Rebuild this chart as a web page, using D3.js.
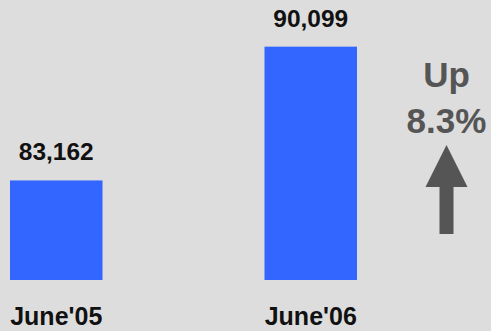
<!DOCTYPE html>
<html>
<head>
<meta charset="utf-8">
<script src="https://cdn.jsdelivr.net/npm/d3@7"></script>
<style>
  html, body { margin: 0; padding: 0; background: #dddddd; }
  svg { display: block; }
  text { font-family: "Liberation Sans", Arial, sans-serif; font-weight: bold; }
</style>
</head>
<body>
<svg id="chart" width="491" height="331"></svg>
<script>
// Monthly totals compared year over year
const periods = ["June'05", "June'06"];
const totals = [83162, 90099];
const changeLines = ["Up", "8.3%"];

const svg = d3.select("#chart");
const W = 491, H = 331;

svg.append("rect").attr("width", W).attr("height", H).attr("fill", "#dddddd");

const x = d3.scaleBand()
  .domain(periods)
  .range([10, 357])
  .paddingInner(0.6365)
  .paddingOuter(0);

// Truncated value axis so the difference reads clearly
const y = d3.scaleLinear()
  .domain([78000, 92000])
  .range([280, 10]);

const fmt = d3.format(",");

const g = svg.append("g");

g.selectAll("rect.bar")
  .data(periods)
  .join("rect")
  .attr("class", "bar")
  .attr("x", d => x(d))
  .attr("width", x.bandwidth())
  .attr("y", (d, i) => y(totals[i]))
  .attr("height", (d, i) => y.range()[0] - y(totals[i]))
  .attr("fill", "#3366ff");

g.selectAll("text.value")
  .data(periods)
  .join("text")
  .attr("class", "value")
  .attr("x", d => x(d) + x.bandwidth() / 2)
  .attr("y", (d, i) => y(totals[i]) - 20)
  .attr("text-anchor", "middle")
  .attr("font-size", 24.5)
  .attr("fill", "#111")
  .text((d, i) => fmt(totals[i]));

g.selectAll("text.period")
  .data(periods)
  .join("text")
  .attr("class", "period")
  .attr("x", d => x(d) + x.bandwidth() / 2)
  .attr("y", 325)
  .attr("text-anchor", "middle")
  .attr("font-size", 25)
  .attr("fill", "#111")
  .text(d => d);

// Change annotation with an upward arrow
const ax = 446.5;
svg.selectAll("text.change")
  .data(changeLines)
  .join("text")
  .attr("class", "change")
  .attr("x", ax)
  .attr("y", (d, i) => 87 + i * 46)
  .attr("text-anchor", "middle")
  .attr("font-size", 35)
  .attr("fill", "#555555")
  .text(d => d);

const p = d3.path();
p.moveTo(ax, 145);
p.lineTo(ax + 21, 187);
p.lineTo(ax + 7, 187);
p.lineTo(ax + 7, 234);
p.lineTo(ax - 7, 234);
p.lineTo(ax - 7, 187);
p.lineTo(ax - 21, 187);
p.closePath();
svg.append("path").attr("d", p.toString()).attr("fill", "#555555");
</script>
</body>
</html>
